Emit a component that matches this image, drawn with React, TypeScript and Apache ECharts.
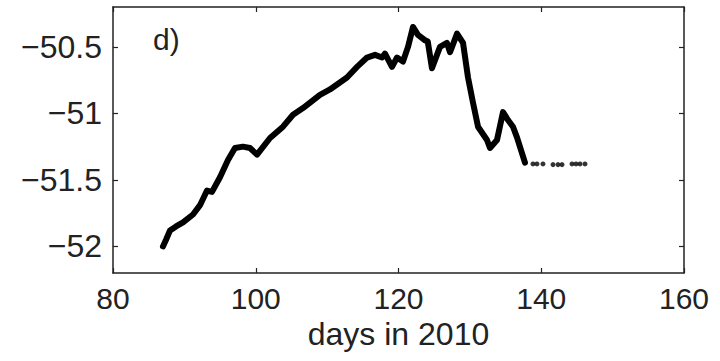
import React, { useEffect, useRef } from "react";
import * as echarts from "echarts";

const mainDays = [87.0, 87.43, 87.99, 88.83, 89.81, 91.21, 92.19, 93.17, 93.87, 94.99, 96.11, 97.09, 98.21, 99.19, 100.18, 102.0, 103.82, 105.22, 106.62, 109.0, 110.4, 112.78, 114.19, 115.59, 116.71, 117.69, 118.11, 119.09, 119.79, 120.63, 121.33, 122.03, 122.73, 123.71, 124.1, 124.69, 125.81, 126.79, 127.22, 128.2, 129.04, 129.74, 130.44, 131.14, 132.4, 132.82, 133.8, 134.64, 135.34, 136.04, 136.6, 137.72];
const mainValues = [-52.0, -51.95, -51.88, -51.85, -51.82, -51.76, -51.69, -51.58, -51.59, -51.48, -51.35, -51.26, -51.25, -51.26, -51.31, -51.185, -51.1, -51.01, -50.96, -50.86, -50.82, -50.73, -50.65, -50.58, -50.56, -50.58, -50.55, -50.65, -50.58, -50.61, -50.5, -50.35, -50.41, -50.45, -50.46, -50.66, -50.5, -50.47, -50.54, -50.4, -50.47, -50.73, -50.92, -51.1, -51.2, -51.26, -51.2, -50.99, -51.05, -51.1, -51.18, -51.37];
const tailDays = [138.84, 139.4, 140.24, 141.65, 142.35, 142.91, 144.31, 144.87, 145.43, 146.13];
const tailValues = [-51.38, -51.38, -51.38, -51.385, -51.385, -51.385, -51.38, -51.38, -51.38, -51.38];
const xTicks = [80, 100, 120, 140, 160];
const yTicks = [-52, -51.5, -51, -50.5];
const panelLabel = "d)";
const xTitle = "days in 2010";

const FONT = "Liberation Sans, Arial, sans-serif";
const TEXT = "#222";

export default function App() {
  const ref = useRef<HTMLDivElement>(null);
  useEffect(() => {
    if (!ref.current) return;
    const chart = echarts.init(ref.current, undefined, { renderer: "svg" });
    const axisLine = { show: true, lineStyle: { color: "#222", width: 1.5 } };
    const tickStyle = { show: true, inside: true, length: 5, lineStyle: { color: "#222", width: 1.2 } };
    const fmtY = (v: number) => (v < 0 ? "\u2212" + String(Math.abs(v)) : String(v));
    chart.setOption({
      animation: false,
      backgroundColor: "#fff",
      grid: { left: 113, right: 36, top: 7, bottom: 88, containLabel: false },
      xAxis: [
        {
          type: "value", min: 80, max: 160, interval: 20, position: "bottom",
          axisLine, axisTick: tickStyle, splitLine: { show: false },
          axisLabel: { color: TEXT, fontSize: 30, fontFamily: FONT, margin: 10,
            formatter: (v: number) => (xTicks.includes(v) ? String(v) : "") },
          name: xTitle, nameLocation: "middle", nameGap: 44,
          nameTextStyle: { color: TEXT, fontSize: 32, fontFamily: FONT, verticalAlign: "top" },
        },
        {
          type: "value", min: 80, max: 160, interval: 20, position: "top",
          axisLine, axisTick: tickStyle, axisLabel: { show: false }, splitLine: { show: false },
        },
      ],
      yAxis: [
        {
          type: "value", min: -52.2, max: -50.2, position: "left",
          axisLine, axisTick: { ...tickStyle, customValues: yTicks }, splitLine: { show: false },
          axisLabel: { color: TEXT, fontSize: 32, fontFamily: FONT, margin: 11,
            customValues: yTicks, formatter: fmtY },
        },
        {
          type: "value", min: -52.2, max: -50.2, position: "right",
          axisLine, axisTick: { ...tickStyle, customValues: yTicks }, axisLabel: { show: false },
          splitLine: { show: false },
        },
      ],
      graphic: [
        { type: "text", left: 153, top: 24, style: { text: panelLabel, fontSize: 30, fontFamily: FONT, fill: TEXT } },
      ],
      series: [
        {
          type: "line", xAxisIndex: 0, yAxisIndex: 0,
          data: mainDays.map((d, i) => [d, mainValues[i]]),
          showSymbol: false, lineStyle: { color: "#000", width: 6, join: "round", cap: "round" },
        },
        {
          type: "scatter", xAxisIndex: 0, yAxisIndex: 0,
          data: tailDays.map((d, i) => [d, tailValues[i]]),
          symbolSize: 5, itemStyle: { color: "#000" },
        },
      ],
    });
    return () => chart.dispose();
  }, []);
  return <div ref={ref} style={{ width: 720, height: 361, position: "absolute", left: 0, top: 0 }} />;
}
